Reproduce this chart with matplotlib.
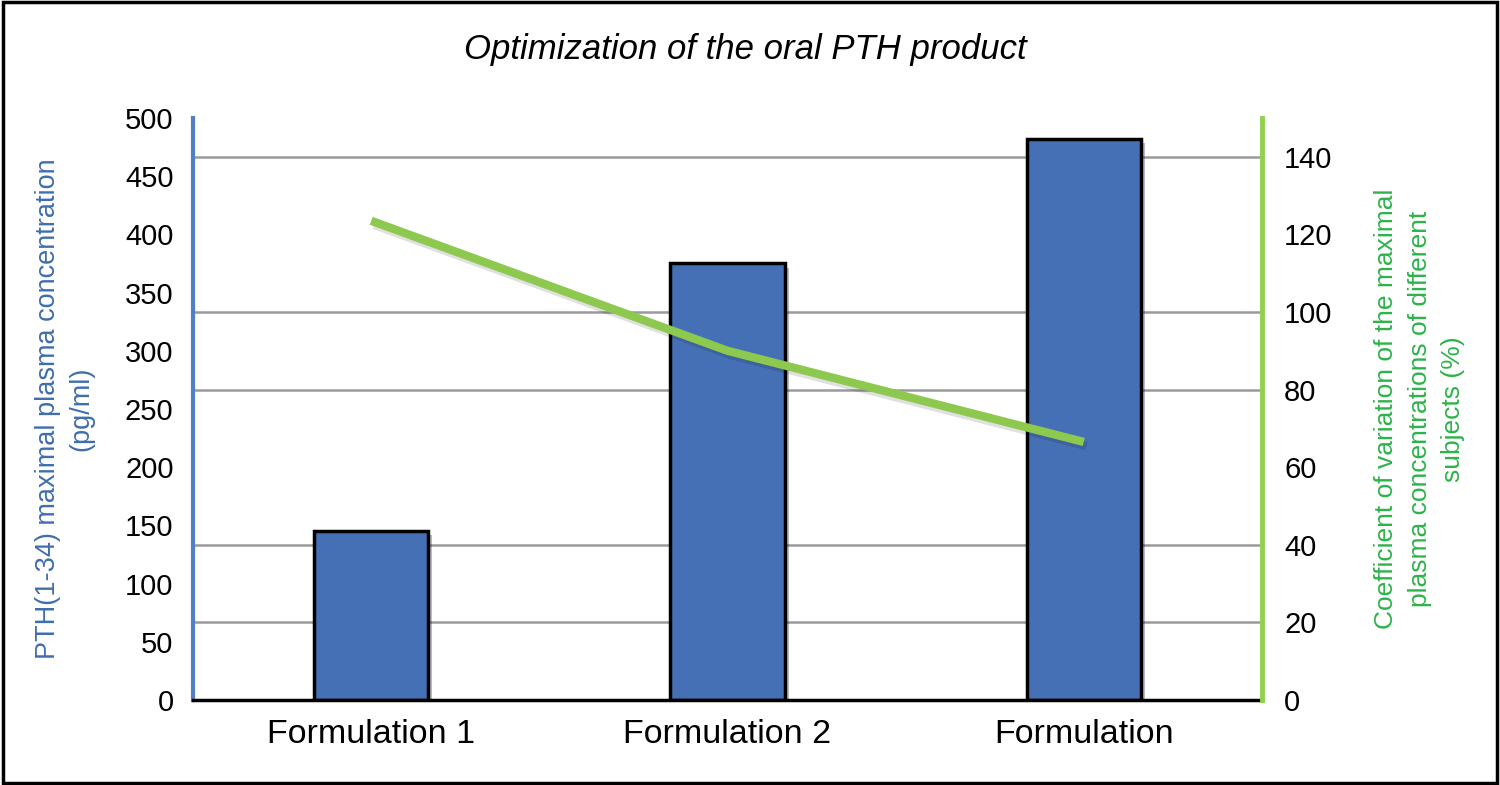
import numpy as np
import matplotlib.pyplot as plt
import matplotlib.patheffects as pe
from matplotlib.patches import Rectangle

plt.rcParams['font.family'] = ['Liberation Sans Narrow', 'Liberation Sans', 'DejaVu Sans']

# data
categories = ['Formulation 1', 'Formulation 2', 'Formulation']
cmax = [145, 375, 482]          # pg/ml, left axis
cv = [123.5, 90, 66.5]          # %, right axis
left_ticks = np.arange(0, 501, 50)
right_ticks = np.arange(0, 141, 20)

fig = plt.figure(figsize=(15, 7.85), dpi=100)
fig.patches.append(Rectangle((0.002, 0.003), 0.996, 0.994, transform=fig.transFigure,
                             fill=False, edgecolor='black', linewidth=2.5))

ax = fig.add_axes([0.1287, 0.1083, 0.7126, 0.7414])
x = np.arange(len(categories))

# grid lines follow the right-axis ticks, drawn under the bars
ax.set_ylim(0, 500)
ax.set_yticks(right_ticks * 500 / 150, minor=True)
ax.yaxis.grid(True, which='minor', color='#9a9a9a', linewidth=1.8)
ax.set_axisbelow(True)

ax.bar(x, cmax, width=0.32, color='#4670B5', edgecolor='black', linewidth=2.5,
       path_effects=[pe.SimplePatchShadow(offset=(3, -3), alpha=0.3), pe.Normal()], zorder=2)

ax.set_xlim(-0.5, 2.5)
ax.set_xticks(x)
ax.set_xticklabels(categories, fontsize=24.5)
ax.tick_params(axis='x', length=0, pad=14)
ax.set_yticks(left_ticks)
ax.tick_params(axis='y', which='both', length=0, labelsize=21, pad=14)
ax.set_ylabel('PTH(1-34) maximal plasma concentration\n(pg/ml)', color='#3F6EAD',
              fontsize=19.5, labelpad=22, linespacing=1.35)

for s in ['top', 'right']:
    ax.spines[s].set_visible(False)
ax.spines['left'].set_color('#4F7FC4')
ax.spines['left'].set_linewidth(3)
ax.spines['bottom'].set_color('black')
ax.spines['bottom'].set_linewidth(2.5)

ax2 = ax.twinx()
ax2.plot(x, cv, color='#8DC84F', linewidth=6, solid_capstyle='butt',
         path_effects=[pe.SimpleLineShadow(offset=(2, -3), alpha=0.12), pe.Normal()])
ax2.set_ylim(0, 150)
ax2.set_yticks(right_ticks)
ax2.tick_params(axis='y', length=0, labelsize=21, pad=16)
ax2.set_ylabel('Coefficient of variation of the maximal\nplasma concentrations of different\nsubjects (%)',
               color='#2DB34A', fontsize=19, labelpad=30, linespacing=1.5)
for s in ['top', 'left', 'bottom']:
    ax2.spines[s].set_visible(False)
ax2.spines['right'].set_color('#92D050')
ax2.spines['right'].set_linewidth(3.5)

fig.text(0.497, 0.937, 'Optimization of the oral PTH product', ha='center', va='center',
         fontsize=25, style='italic')

fig.savefig('out.png', dpi=100)
